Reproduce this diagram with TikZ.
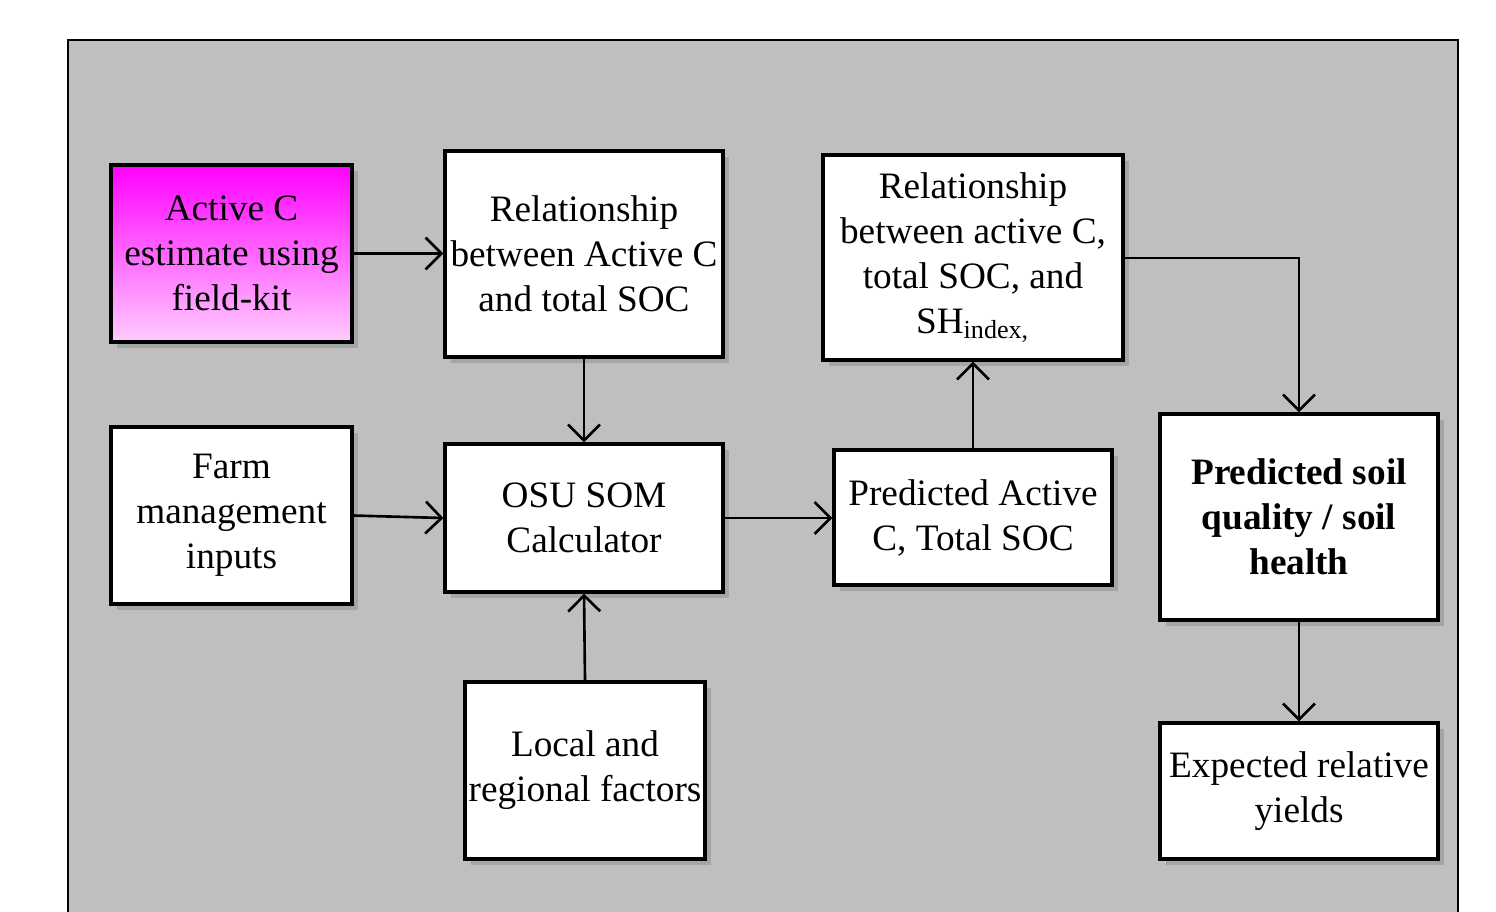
\documentclass[tikz,border=0pt]{standalone}
\usepackage{fontspec}
\setmainfont{Liberation Serif}
\usetikzlibrary{arrows.meta,shadows}
\definecolor{panelgray}{RGB}{191,191,191}
\definecolor{kitpink}{RGB}{255,204,255}
\begin{document}
\begin{tikzpicture}[
  box/.style={draw=black, line width=0.9pt, fill=white, align=center,
    inner sep=0pt, font=\fontsize{10.6}{12.8}\selectfont,
    drop shadow={shadow xshift=0.06cm, shadow yshift=-0.06cm, opacity=0.4}},
  link/.style={-{Straight Barb[length=1.6mm,width=3.2mm]}, line width=0.75pt}
]
\useasboundingbox (0,0) rectangle (14.96,-9.11);
% grey panel
\draw[fill=panelgray, line width=0.7pt] (0.68,-0.40) rectangle (14.58,-9.40);

% left column
\node[box, shading=axis, top color=magenta, bottom color=kitpink,
  minimum width=2.41cm, minimum height=1.77cm] (kit) at (2.315,-2.535)
  {Active C\\estimate using\\field-kit};
\node[box, minimum width=2.41cm, minimum height=1.77cm] (farm) at (2.315,-5.155)
  {Farm\\management\\inputs};

% middle column
\node[box, minimum width=2.78cm, minimum height=2.06cm] (rel) at (5.84,-2.54)
  {Relationship\\between Active C\\and total SOC};
\node[box, minimum width=2.78cm, minimum height=1.48cm] (osu) at (5.84,-5.18)
  {OSU SOM\\Calculator};
\node[box, minimum width=2.40cm, minimum height=1.77cm] (local) at (5.85,-7.705)
  {Local and\\regional factors};

% right part
\node[box, minimum width=3.00cm, minimum height=2.05cm] (relsh) at (9.73,-2.575)
  {Relationship\\between active C,\\total SOC, and\\SH\textsubscript{index,}};
\node[box, minimum width=2.78cm, minimum height=1.35cm] (pred) at (9.73,-5.175)
  {Predicted Active\\C, Total SOC};
\node[box, minimum width=2.78cm, minimum height=2.06cm] (health) at (12.99,-5.17)
  {\bfseries Predicted soil\\\bfseries quality / soil\\\bfseries health};
\node[box, minimum width=2.78cm, minimum height=1.36cm] (yield) at (12.99,-7.91)
  {Expected relative\\yields};

% arrows
\draw[link] (kit.east) -- (rel.west |- kit.east);
\draw[link] (rel.south) -- (osu.north);
\draw[link] (farm.east) -- (osu.west);
\draw[link] (local.north) -- (osu.south);
\draw[link] (osu.east) -- (pred.west |- osu.east);
\draw[link] (pred.north) -- (relsh.south);
\draw[link] (relsh.east |- 0,-2.58) -| (health.north);
\draw[link] (health.south) -- (yield.north);
\end{tikzpicture}
\end{document}
